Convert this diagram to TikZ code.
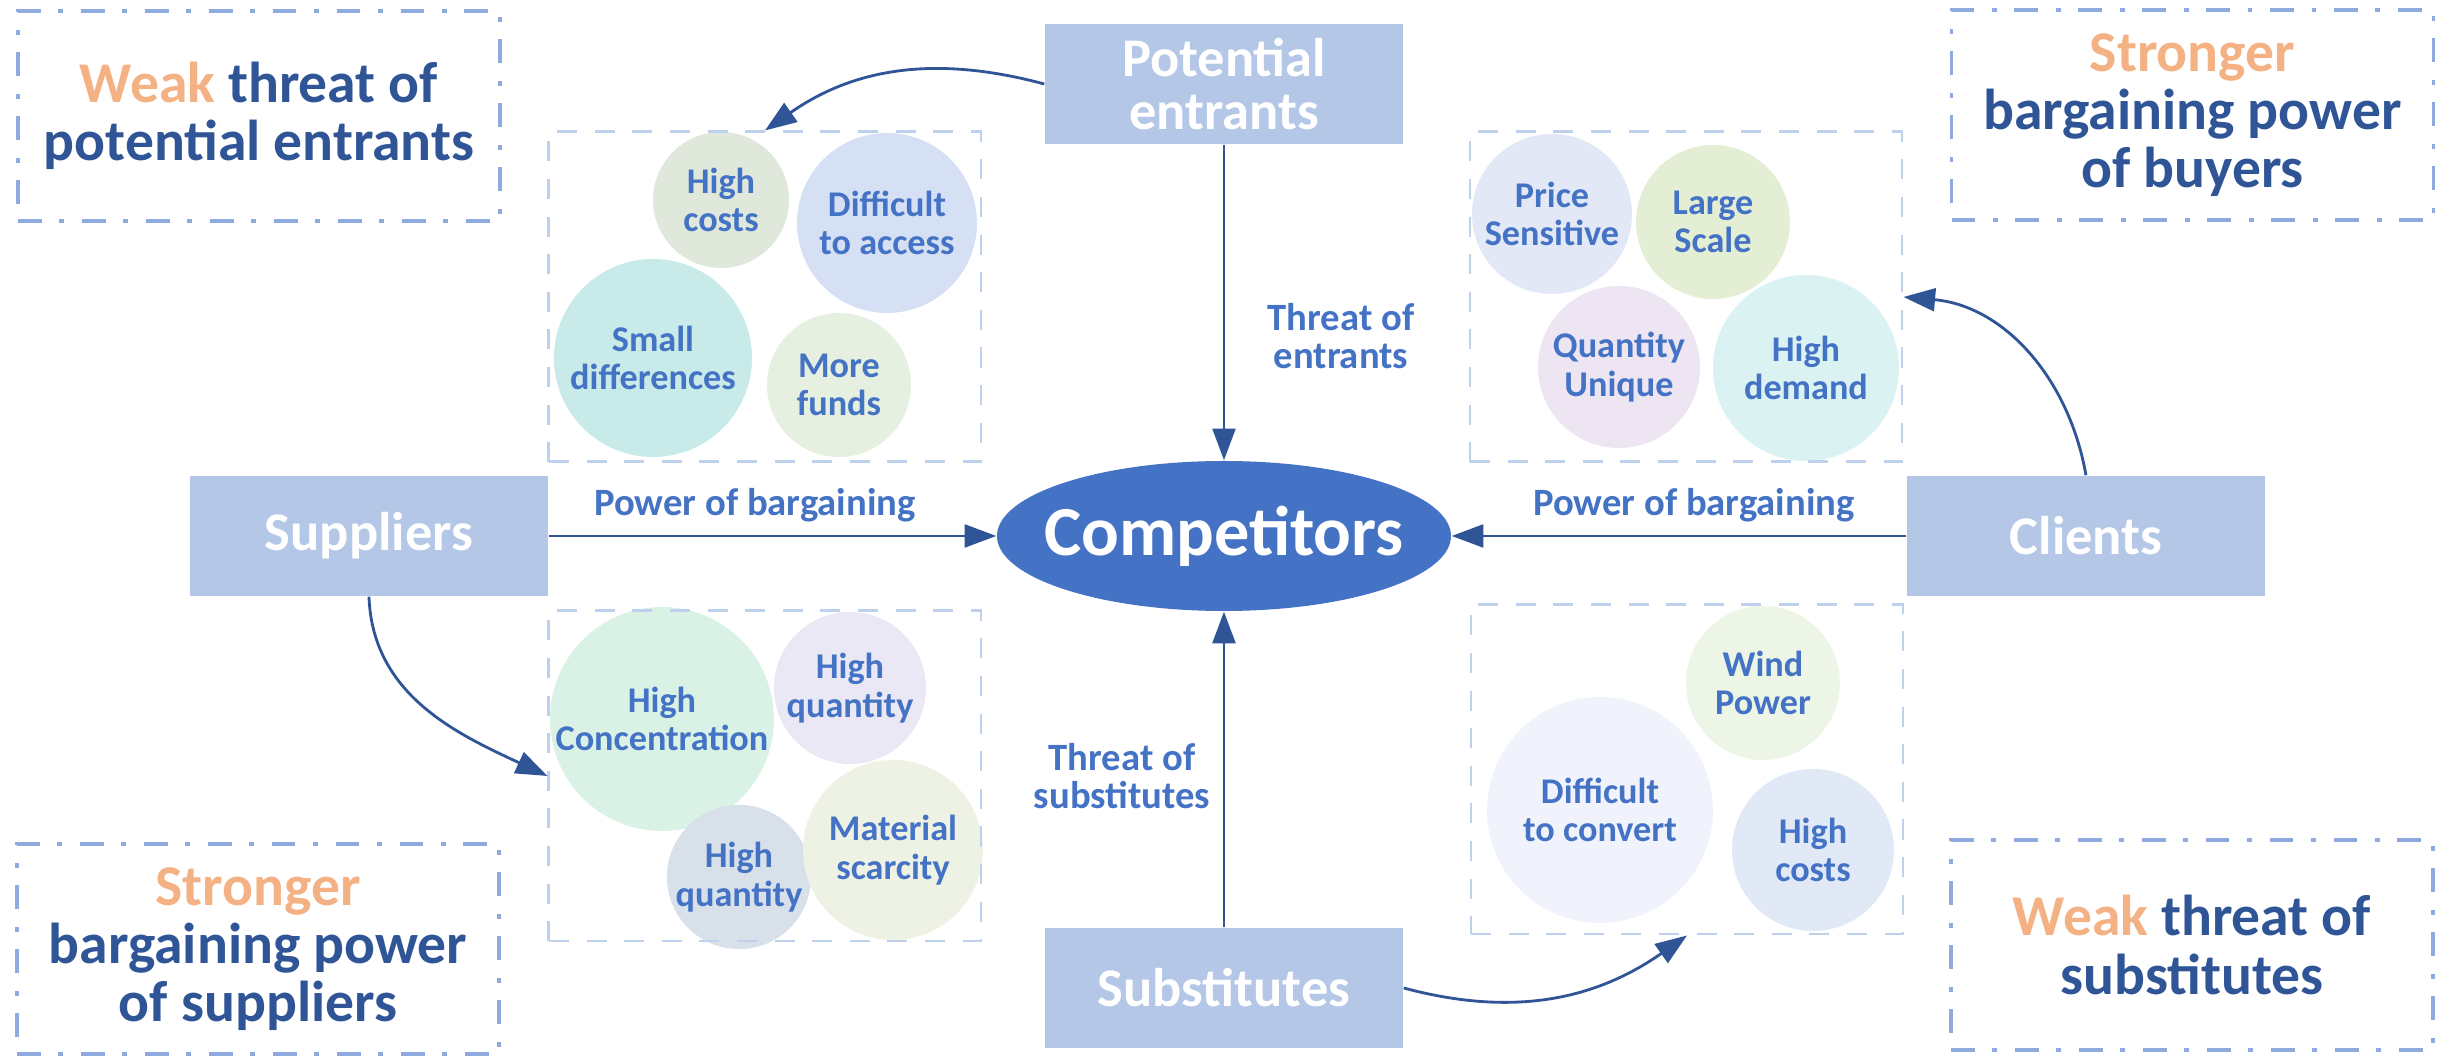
\documentclass[tikz,border=0pt]{standalone}
\usepackage{fontspec}
\setmainfont{Carlito}
\usetikzlibrary{shapes.geometric,arrows.meta}

\definecolor{force}{HTML}{B4C7E7}
\definecolor{core}{HTML}{4472C4}
\definecolor{ink}{HTML}{2F5597}
\definecolor{accent}{HTML}{F4B183}
\definecolor{frame}{HTML}{8FAADC}
\definecolor{group}{HTML}{BDD0EC}
% bubble fills
\definecolor{sage}{HTML}{E0E8DC}
\definecolor{sky}{HTML}{D6E0F4}
\definecolor{teal}{HTML}{C8EAE8}
\definecolor{mint}{HTML}{E6F0E1}
\definecolor{frost}{HTML}{E2E8F5}
\definecolor{lime}{HTML}{E4EED4}
\definecolor{lilac}{HTML}{EDE5F2}
\definecolor{aqua}{HTML}{DAF2F2}
\definecolor{jade}{HTML}{DAF2E6}
\definecolor{mist}{HTML}{EAE8F4}
\definecolor{slate}{HTML}{D8E0EA}
\definecolor{cream}{HTML}{EEF2E4}
\definecolor{leaf}{HTML}{ECF5E6}
\definecolor{snow}{HTML}{F0F2FC}
\definecolor{ice}{HTML}{E1E9F7}

\begin{document}
\begin{tikzpicture}[node distance=4.52cm,
		main node/.style={rectangle,fill=force,text=white,font=\fontsize{15.5}{15}\selectfont\bfseries,
			minimum width=3.58cm,minimum height=1.2cm,align=center,inner sep=0pt},
		center node/.style={ellipse,fill=core,text=white,font=\fontsize{20}{20}\selectfont\bfseries,
			minimum width=4.54cm,minimum height=1.5cm,inner xsep=-0.2cm,inner ysep=0pt},
		note node/.style={rectangle,draw=frame,line width=1.1pt,dash pattern=on 6.8pt off 5pt on 1.4pt off 5pt,
			text=ink,font=\fontsize{16.4}{16.6}\selectfont\bfseries,align=center,
			minimum width=4.82cm,minimum height=2.1cm},
		group box/.style={rectangle,draw=group,line width=0.85pt,dash pattern=on 5.7pt off 5pt,
			minimum width=4.32cm,minimum height=3.3cm},
		bubble/.style={circle,text=core,font=\fontsize{10.3}{11}\selectfont\bfseries,align=center,inner sep=0pt},
		label node/.style={text=core,font=\fontsize{11}{11}\selectfont\bfseries,align=center},
		force arrow/.style={draw=ink,line width=0.8pt,-{Triangle[length=9pt,width=6.5pt]}}]
		
		\useasboundingbox (-12.24,-5.21) rectangle (12.26,5.36);
		
		% the five forces
		\node[center node] (comp) at (0,0) {Competitors};
		\node[main node] (entrants) [above of=comp] {Potential\\entrants};
		\node[main node] (subst) [below of=comp] {Substitutes};
		\node[main node] (suppliers) [left of=comp, node distance=8.55cm] {Suppliers};
		\node[main node] (clients) [right of=comp, node distance=8.62cm] {Clients};
		
		% factors of each force
		\node[bubble,fill=sage,minimum size=1.36cm] (b1) at (-5.03,3.36) {High\\costs};
		\node[bubble,fill=sky,minimum size=1.8cm] (b2) at (-3.37,3.13) {Difficult\\to access};
		\node[bubble,fill=teal,minimum size=1.98cm] (b3) at (-5.71,1.78) {Small\\differences};
		\node[bubble,fill=mint,minimum size=1.44cm] (b4) at (-3.85,1.51) {More\\funds};
		
		\node[bubble,fill=frost,minimum size=1.6cm] (b5) at (3.28,3.22) {Price\\Sensitive};
		\node[bubble,fill=lime,minimum size=1.54cm] (b6) at (4.89,3.14) {Large\\Scale};
		\node[bubble,fill=lilac,minimum size=1.62cm] (b7) at (3.95,1.69) {Quantity\\Unique};
		\node[bubble,fill=aqua,minimum size=1.86cm] (b8) at (5.82,1.68) {High\\demand};
		
		\node[bubble,fill=jade,minimum size=2.24cm] (b9) at (-5.62,-1.83) {High\\Concentration};
		\node[bubble,fill=mist,minimum size=1.52cm] (b10) at (-3.74,-1.52) {High\\quantity};
		\node[bubble,fill=slate,minimum size=1.26cm] (b11) at (-4.85,-3.41) {High\\quantity};
		\node[bubble,fill=cream,minimum size=1.8cm] (b12) at (-3.31,-3.14) {Material\\scarcity};
		
		\node[bubble,fill=leaf,minimum size=1.54cm] (b13) at (5.39,-1.47) {Wind\\Power};
		\node[bubble,fill=snow,minimum size=2.26cm] (b14) at (3.76,-2.74) {Difficult\\to convert};
		\node[bubble,fill=ice,minimum size=1.62cm] (b15) at (5.89,-3.14) {High\\costs};
		
		\node[group box] (tlbox) at (-4.59,2.39) {};
		\node[group box] (trbox) at (4.62,2.39) {};
		\node[group box] (blbox) at (-4.59,-2.40) {};
		\node[group box,minimum height=3.29cm] (brbox) at (4.63,-2.335) {};
		
		% conclusions in the corners
		\node[note node] (tlnote) at (-9.65,4.2) {\textcolor{accent}{Weak} threat of\\potential entrants};
		\node[note node] (trnote) at (9.685,4.21) {\textcolor{accent}{Stronger}\\bargaining power\\of buyers};
		\node[note node] (blnote) at (-9.66,-4.13) {\textcolor{accent}{Stronger}\\bargaining power\\of suppliers};
		\node[note node] (brnote) at (9.68,-4.09) {\textcolor{accent}{Weak} threat of\\substitutes};
		
		% labels on the arrows
		\node[label node] (lsup) at (-4.69,0.31) {Power of bargaining};
		\node[label node] (lcli) at (4.70,0.31) {Power of bargaining};
		\node[label node] (lent) at (1.17,2.0) {Threat of\\entrants};
		\node[label node] (lsub) at (-1.02,-2.40) {Threat of\\substitutes};
		
		\draw[force arrow] (entrants) -- (comp);
		\draw[force arrow] (subst) -- (comp);
		\draw[force arrow] (suppliers) -- (comp);
		\draw[force arrow] (clients) -- (comp);
		
		\draw[force arrow] (entrants.west) to[out=165,in=35] (tlbox.north);
		\draw[force arrow] (suppliers.south) to[out=-88,in=155] (blbox.west);
		\draw[force arrow] (subst.east) to[out=-15,in=-145] (brbox.south);
		\draw[force arrow] (clients.north) to[out=100,in=-5] (trbox.east);
\end{tikzpicture}
\end{document}
